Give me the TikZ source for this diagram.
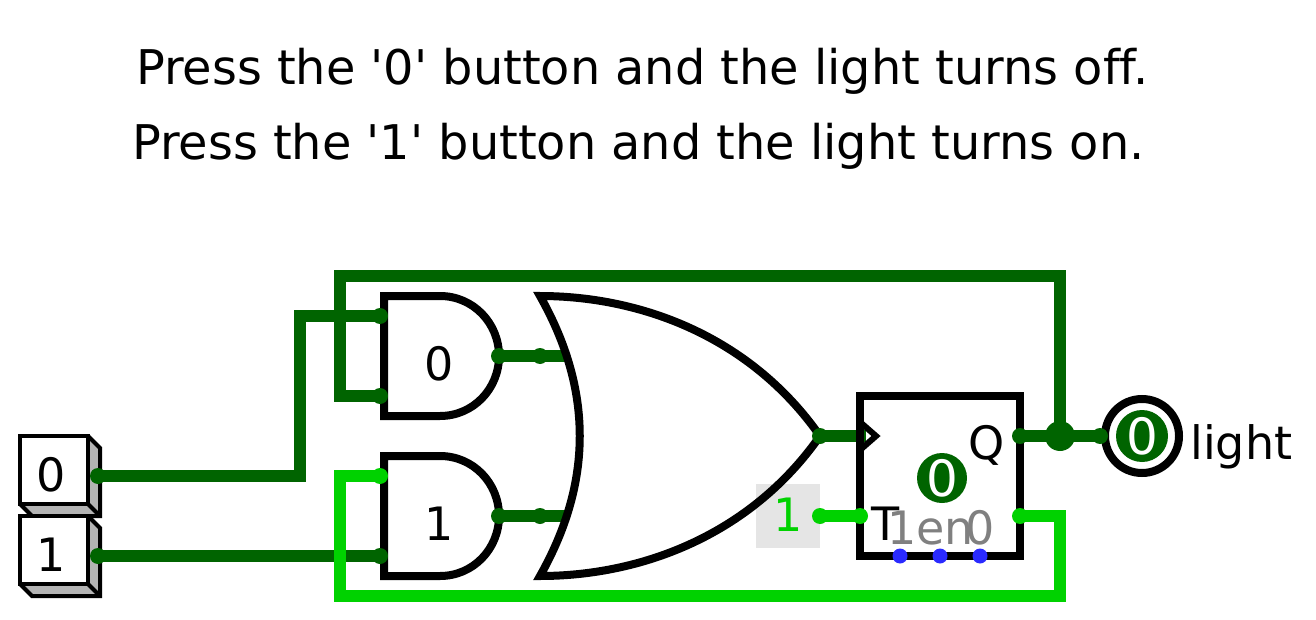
\documentclass[tikz,border=0pt]{standalone}
\usepackage{fontspec}
\setmainfont{DejaVu Sans}
\newfontfamily\djv[Ligatures=NoCommon]{DejaVu Sans}
\definecolor{wdark}{HTML}{006400}
\definecolor{wlight}{HTML}{00D200}
\definecolor{pinblue}{HTML}{2A2AFF}
\definecolor{keygrey}{HTML}{B4B4B4}
\definecolor{lblgrey}{HTML}{808080}
\definecolor{constbg}{HTML}{E5E5E5}
\newcommand{\bigtxt}{\djv\fontsize{47.8}{48}\selectfont}
\newcommand{\lbl}{\djv\fontsize{46}{46}\selectfont}
\newcommand{\stt}{\djv\fontsize{50}{50}\selectfont}
\tikzset{
  x=1pt,y=-1pt,
  wiredark/.style={draw=wdark,line width=12pt,line join=miter},
  wirelight/.style={draw=wlight,line width=12pt,line join=miter},
  gateline/.style={draw=black,line width=8pt,line join=miter},
  keyline/.style={draw=black,line width=4pt,line join=miter},
  pindark/.style={circle,fill=wdark,inner sep=0pt,minimum size=16pt},
  pinlight/.style={circle,fill=wlight,inner sep=0pt,minimum size=16pt},
  pinblue/.style={circle,fill=pinblue,inner sep=0pt,minimum size=15pt},
  txt/.style={inner sep=0pt,font=\lbl,text=black},
  title/.style={inner sep=0pt,anchor=base west,font=\bigtxt},
  grey/.style={inner sep=0pt,anchor=base west,font=\lbl,text=lblgrey},
}
\begin{document}
\begin{tikzpicture}
\useasboundingbox (0,0) rectangle (1316,620);
\node[title] (t1) at (136,85) {Press the '0' button and the light turns off.};
\node[title] (t2) at (132,160) {Press the '1' button and the light turns on.};

% keys
\foreach \nm/\yy/\tx in {k0/436/0,k1/516/1}{
  \fill[keygrey] (88,\yy) -- (100,\yy+12) -- (100,\yy+80) -- (32,\yy+80) -- (20,\yy+68) -- (88,\yy+68) -- cycle;
  \draw[keyline] (88,\yy) -- (100,\yy+12) -- (100,\yy+80) -- (32,\yy+80) -- (20,\yy+68);
  \draw[keyline] (88,\yy+68) -- (100,\yy+80);
  \draw[keyline,fill=white] (20,\yy) rectangle (88,\yy+68);
  \node[txt] (\nm) at (51,\yy+39) {\tx};
}

\coordinate (in0) at (98,476);
\coordinate (in1) at (98,556);
\coordinate (a0i0) at (380,316);
\coordinate (a0i1) at (380,396);
\coordinate (a1i0) at (380,476);
\coordinate (a1i1) at (380,556);
\coordinate (a0o) at (499,356);
\coordinate (a1o) at (499,516);
\coordinate (o0e) at (568,356);
\coordinate (o1e) at (568,516);
\coordinate (oo) at (820,436);
\coordinate (clk) at (866,436);
\coordinate (cin) at (820,516);
\coordinate (tin) at (860,516);
\coordinate (q) at (1020,436);
\coordinate (qn) at (1020,516);
\coordinate (j) at (1060,436);
\coordinate (lin) at (1100,436);

\fill[constbg] (756,484) rectangle (820,548);
% wires
\draw[wiredark] (in0) -| (300,316) -- (a0i0);
\draw[wiredark] (in1) -- (a1i1);
\draw[wiredark] (a0i1) -| (340,276) -| (j);
\draw[wiredark] (q) -- (lin);
\draw[wiredark] (a0o) -- (o0e);
\draw[wiredark] (a1o) -- (o1e);
\draw[wiredark] (oo) -- (clk);
\draw[wirelight] (a1i0) -| (340,596) -| (1060,516) -- (qn);
\draw[wirelight] (cin) -- (tin);

% AND gates
\foreach \yy in {296,456}{
  \draw[gateline] (384,\yy) -- (440,\yy) .. controls (473,\yy) and (499,\yy+27) .. (499,\yy+60) .. controls (499,\yy+93) and (473,\yy+120) .. (440,\yy+120) -- (384,\yy+120) -- cycle;
}
\node[txt] (g0) at (439,364) {0};
\node[txt] (g1) at (439,524) {1};

% OR gate
\draw[gateline] (540,296) .. controls (640,296) and (750,336) .. (820,436) .. controls (750,536) and (640,576) .. (540,576) .. controls (593,482) and (593,390) .. (540,296) -- cycle;

% flip-flop
\draw[gateline] (860,396) rectangle (1020,556);
\draw[black,line width=6pt,line join=miter] (860,422) -- (876,436) -- (860,450);
\node[txt,anchor=base] (lq) at (987,459) {Q};
\node[txt,anchor=base] (lt) at (886,540) {T};
\node[grey] (l1en) at (887,544) {1en};
\node[grey] (l0) at (965,544) {0};
\node[inner sep=0pt,font=\lbl,text=wlight,anchor=base] (c1) at (788,531) {1};
\node[circle,fill=wdark,inner sep=0pt,minimum size=50pt,font=\stt,text=white] (st) at (942,478) {0};

% light
\node[circle,draw=black,line width=8pt,fill=white,inner sep=0pt,minimum size=74pt] (lamp) at (1142,436) {};
\node[circle,fill=wdark,inner sep=0pt,minimum size=52pt,font=\stt,text=white] (lc) at (1142,436) {0};
\node[inner sep=0pt,anchor=base west,font=\lbl] (light) at (1190,459) {light};

% pins lie over the gates
\foreach \n/\p in {p1/in0,p2/in1,p3/a0i0,p4/a0i1,p5/a1i1,p6/a0o,p7/a1o,p8/oo,p9/q,p10/lin}{\node[pindark] (\n) at (\p) {};}
\node[pindark] (o0) at (540,356) {};
\node[pindark] (o1) at (540,516) {};
\foreach \n/\p in {p11/a1i0,p12/cin,p13/tin,p14/qn}{\node[pinlight] (\n) at (\p) {};}
\node[circle,fill=wdark,inner sep=0pt,minimum size=30pt] (jn) at (j) {};
\node[pinblue] (b1) at (900,556) {};
\node[pinblue] (b2) at (940,556) {};
\node[pinblue] (b3) at (980,556) {};
\end{tikzpicture}
\end{document}
